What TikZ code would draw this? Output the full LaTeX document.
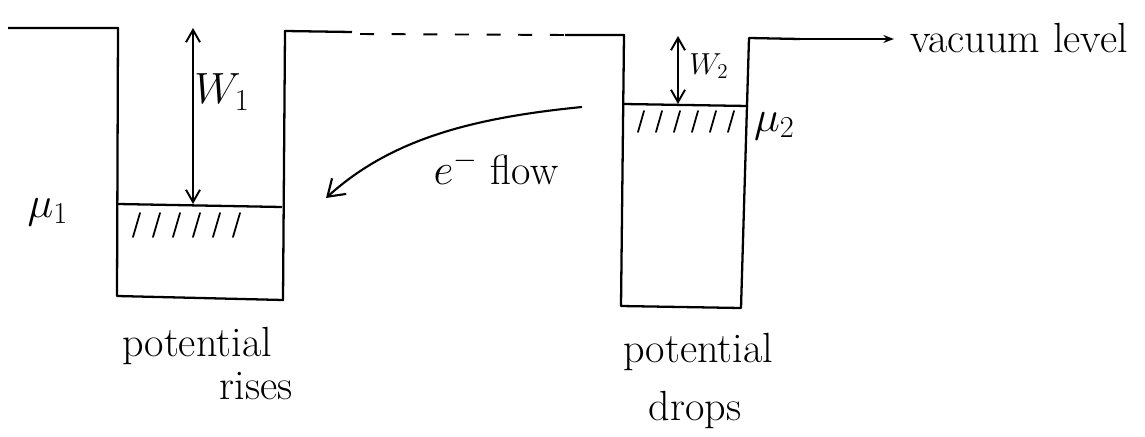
\documentclass[tikz,border=0pt]{standalone}
\usepackage{amsmath, amssymb}
\usetikzlibrary{arrows.meta, positioning, calc}
\tikzset{
  wall/.style={line width=1.3pt, line join=round},
  fermi/.style={line width=1.3pt},
  hatch/.style={line width=1pt, line cap=round},
  gap/.style={
    {Straight Barb[length=7pt, width=8pt]}-{Straight Barb[length=7pt, width=8pt]},
    line width=1.1pt
  },
  flow/.style={-{Straight Barb[length=9pt, width=12pt]}, line width=1.2pt},
  label/.style={font=\fontsize{24}{29}\selectfont, inner sep=1pt}
}

\begin{document}
\begin{tikzpicture}[x=0.02cm, y=-0.02cm]
  \useasboundingbox (0,0) rectangle (1145,436);

  % Metal 1: left well
  \draw[wall] (8,28) -- (118,28) -- (117,296) -- (283,300) -- (285,31) -- (352,32);
  \draw[fermi] (118,204) -- (282,207);
  \foreach \x in {133,153,173,193,213,233}
    \draw[hatch] (\x,237) -- (\x+7,213);

  % Vacuum level: dashed part between the metals
  \draw[line width=1.1pt, dash pattern=on 8pt off 10pt] (360,34) -- (565,35);

  % Metal 2: right well
  \draw[wall] (565,35) -- (624,35) -- (621,306) -- (741,308) -- (749,38) -- (800,39);
  \draw[fermi] (624,104) -- (748,106);
  \foreach \x in {638,656,674,692,710,728}
    \draw[hatch] (\x,132) -- (\x+6,111);

  % Labels
  \node[label, anchor=west] (vac) at (908,38) {vacuum level};
  \coordinate (vacstart) at (800,39);
  \draw[-{Stealth[length=6pt]}, line width=1.2pt, shorten >=8pt] (vacstart) -- (vacstart -| vac.west);

  \node[label] (mu1) at (48,212) {$\mu_1$};
  \node[label, anchor=west] (mu2) at (752,126) {$\mu_2$};

  % Work functions
  \coordinate (w1top) at (193,28);
  \coordinate (w1bot) at (193,204);
  \draw[gap] (w1top) -- (w1bot);
  \node[label] (w1) at (222,92) {$W_1$};

  \coordinate (w2top) at (678,36);
  \coordinate (w2bot) at (678,104);
  \draw[gap] (w2top) -- (w2bot);
  \node[font=\LARGE, inner sep=1pt] (w2) at (709,66) {$W_2$};

  % Electron flow
  \coordinate (flowstart) at (582,107);
  \coordinate (flowend) at (326,198);
  \draw[flow] (flowstart) .. controls (470,118) and (390,140) .. (flowend);
  \node[label] (eflow) at (496,168) {$e^-$ flow};

  % Potentials
  \node[label] (pot1) at (197,346) {potential};
  \node[label] (rises) at (256,386) {rises};
  \node[label] (pot2) at (698,352) {potential};
  \node[label] (drops) at (695,410) {drops};

\end{tikzpicture}
\end{document}
